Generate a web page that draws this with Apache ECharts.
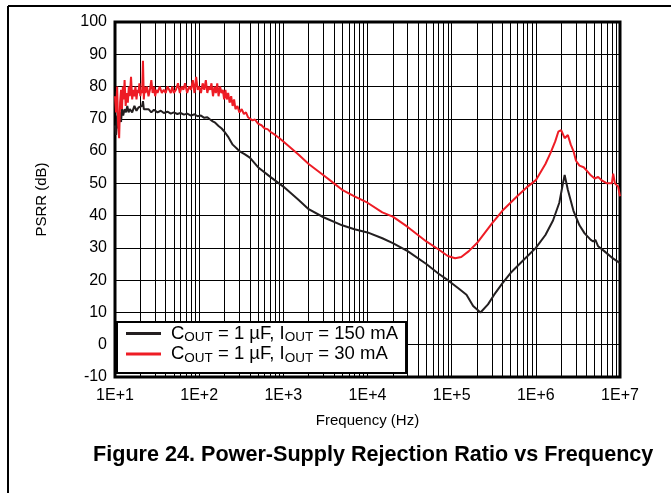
<!DOCTYPE html>
<html>
<head>
<meta charset="utf-8">
<script src="https://cdn.jsdelivr.net/npm/echarts@6/dist/echarts.min.js"></script>
<style>
  html, body { margin: 0; padding: 0; background: #fff; }
  #chart { width: 671px; height: 493px; }
</style>
</head>
<body>
<div id="chart"></div>
<script>
// COUT = 1 uF, IOUT = 30 mA (red)
var freqRed = [10, 10.3, 10.6, 10.9, 11.2, 11.5, 11.8, 12.1, 12.4, 12.7, 13, 13.4, 13.8, 14.2, 14.6, 15, 15.5, 16, 16.5, 17, 17.5, 18, 18.5, 19, 19.5, 20, 20.5, 21, 21.5, 22, 22.5, 23, 24, 25, 26, 27, 28, 29, 30, 31, 32, 34, 36, 38, 40, 42, 44, 46, 48, 50,
  53, 56, 59, 62, 65, 68, 72, 76, 80, 84, 88, 92, 96, 100, 105, 110, 115, 120, 125, 130, 135, 140, 146, 152, 158, 164, 170, 177, 184, 191, 198, 205, 213, 221, 230, 240, 250, 260, 270, 285, 300, 320, 340, 360, 380, 400, 430, 460, 500, 550, 600, 650, 700, 800, 900,
  1000, 1500, 2000, 3000, 4000, 5000, 7000, 10000, 15000, 20000, 30000, 50000, 70000, 90000, 110000, 130000, 160000, 200000, 300000, 400000, 600000, 800000, 1000000,
  1300000, 1500000, 1700000, 1850000, 2000000, 2200000, 2400000, 2600000, 2800000, 3000000, 3300000, 3700000, 4000000, 4500000, 5000000, 5500000, 6000000, 7000000, 8000000, 8300000, 8700000, 9500000, 10000000];
var psrrRed = [77, 72, 80, 68, 64, 75, 79, 73, 80, 76, 82, 74, 78, 75, 80, 77, 83, 76, 79, 77, 80, 76, 79, 78, 81, 77, 79, 78, 88, 76, 80, 78, 80, 77, 79, 82, 78, 80, 77, 79, 78, 80, 78, 79, 78, 80, 79, 78, 80, 78,
  79, 81, 78, 80, 79, 81, 78, 80, 79, 82, 78, 83, 79, 80, 78, 81, 79, 82, 78, 80, 79, 81, 77, 80, 78, 81, 77, 80, 78, 79, 76, 79, 76, 78, 75, 77, 74, 76, 73, 74, 72, 73, 71.5, 72, 70.5, 71, 69.5, 69.8, 68.5, 68, 67, 66.8, 66, 65, 64,
  63, 59, 56, 52.5, 50, 48, 46, 44, 41, 39.7, 36.5, 32, 29.5, 27.5, 26.8, 27.2, 29, 31.5, 37.5, 41.5, 46, 49, 51,
  56, 59.5, 63, 66, 66.5, 64, 65, 62, 60, 57, 55.5, 55, 54, 52.5, 51.5, 52, 51, 50, 50, 53, 50, 49, 46];

// COUT = 1 uF, IOUT = 150 mA (black)
var freqBlack = [10, 10.3, 10.6, 10.9, 11.2, 11.5, 11.8, 12.1, 12.5, 13, 13.5, 14, 14.5, 15, 16, 17, 18, 19, 20, 21, 21.5, 22, 23, 25, 27, 29, 32, 35, 38, 42, 46, 50, 55, 60, 66, 72, 80, 88, 96,
  105, 115, 125, 135, 145, 155, 170, 185, 200, 220, 250, 280, 300, 350, 400, 500, 700,
  1000, 1500, 2000, 3000, 5000, 7000, 10000, 15000, 20000, 30000, 50000, 70000, 90000, 120000, 150000, 180000, 220000, 270000, 320000, 400000, 500000, 700000,
  1000000, 1300000, 1600000, 1900000, 2100000, 2200000, 2400000, 2800000, 3300000, 3800000, 4500000, 4800000, 5100000, 5500000, 6500000, 8000000, 10000000];
var psrrBlack = [68, 65, 71, 67, 70, 72, 69, 73, 71, 73, 72, 74, 72, 73, 72, 74, 72.5, 73.5, 73, 74, 75.5, 73, 72.5, 73, 72, 72.8, 72, 72.5, 71.8, 72.2, 71.6, 72, 71.5, 71.8, 71.3, 71.6, 71, 71.4, 70.8,
  71, 70.3, 70.5, 69.8, 69.2, 68.8, 67.8, 67, 66, 64.5, 62, 60.8, 60, 59, 58, 55, 52,
  49, 45, 42, 39.5, 37, 35.8, 34.8, 33, 31.5, 29, 25, 22, 20, 17.5, 15.5, 12, 10, 12.5, 15.5, 19, 22.2, 26,
  30, 34, 38.5, 44, 50, 52.6, 48, 41.5, 37, 34.5, 32.5, 32, 32.5, 30.5, 29, 27, 25.3];

var xTicks = ['1E+1', '1E+2', '1E+3', '1E+4', '1E+5', '1E+6', '1E+7'];

// minor grid lines 2..9 in every decade
var minorLines = [];
for (var d = 10; d < 1e7; d *= 10) {
    for (var m = 2; m <= 9; m++) {
        minorLines.push({ xAxis: m * d });
    }
}

function pairs(xs, ys) {
    var out = [];
    for (var i = 0; i < xs.length; i++) out.push([xs[i], ys[i]]);
    return out;
}

var font = 'Liberation Sans, Arial, sans-serif';
var chart = echarts.init(document.getElementById('chart'));

chart.setOption({
    animation: false,
    grid: {
        left: 115, right: 51, top: 22, bottom: 116,
        show: true, borderColor: '#000', borderWidth: 3
    },
    title: {
        text: 'Figure 24. Power-Supply Rejection Ratio vs Frequency',
        left: 88, top: 439,
        textStyle: { fontFamily: font, fontSize: 21.6, fontWeight: 'bold', color: '#000' }
    },
    legend: {
        data: ['150', '30'],
        orient: 'vertical',
        left: 117, top: 322,
        padding: [2, 8, 8, 9],
        itemGap: 0,
        itemWidth: 35, itemHeight: 3,
        icon: 'rect',
        z: 10,
        backgroundColor: '#fff',
        borderColor: '#000', borderWidth: 2, borderRadius: 0,
        formatter: function (name) {
            return '{a|C}{s|OUT}{a| = 1 µF, I}{s|OUT}{a| = ' + name + ' mA}';
        },
        textStyle: {
            fontFamily: font, color: '#000', padding: [0, 0, 0, 5],
            rich: {
                a: { fontFamily: font, fontSize: 18.5, lineHeight: 22, color: '#000' },
                s: { fontFamily: font, fontSize: 13.5, lineHeight: 22, verticalAlign: 'bottom', color: '#000' }
            }
        }
    },
    xAxis: {
        type: 'log', logBase: 10, min: 10, max: 1e7,
        name: 'Frequency (Hz)', nameLocation: 'middle', nameGap: 36,
        nameTextStyle: { fontFamily: font, fontSize: 15, color: '#000' },
        axisLine: { show: false },
        axisTick: { show: false },
        axisLabel: {
            fontFamily: font, fontSize: 16, color: '#000', margin: 11,
            formatter: function (v) { return xTicks[Math.round(Math.log10(v)) - 1]; }
        },
        splitLine: { show: true, lineStyle: { color: '#000', width: 1 } }
    },
    yAxis: {
        type: 'value', min: -10, max: 100, interval: 10,
        name: 'PSRR (dB)', nameLocation: 'middle', nameGap: 66,
        nameTextStyle: { fontFamily: font, fontSize: 15, color: '#000' },
        axisLine: { show: false },
        axisTick: { show: false },
        axisLabel: { fontFamily: font, fontSize: 16, color: '#000', margin: 8 },
        splitLine: { show: true, lineStyle: { color: '#000', width: 1 } }
    },
    graphic: [
        { type: 'line', shape: { x1: 8, y1: 6, x2: 8, y2: 493 }, style: { stroke: '#000', lineWidth: 2 } },
        { type: 'line', shape: { x1: 8, y1: 6, x2: 671, y2: 6 }, style: { stroke: '#000', lineWidth: 2 } }
    ],
    series: [
        {
            name: 'grid', type: 'line', data: [], z: 1, silent: true,
            markLine: {
                z: 1, silent: true, symbol: 'none', label: { show: false },
                lineStyle: { color: '#000', width: 1, type: 'solid' },
                data: minorLines
            }
        },
        {
            name: '150', type: 'line', data: pairs(freqBlack, psrrBlack), z: 3,
            showSymbol: false, color: '#231f20',
            lineStyle: { width: 2, color: '#231f20' }
        },
        {
            name: '30', type: 'line', data: pairs(freqRed, psrrRed), z: 3,
            showSymbol: false, color: '#ee1c25',
            lineStyle: { width: 2, color: '#ee1c25' }
        }
    ]
});
</script>
</body>
</html>
